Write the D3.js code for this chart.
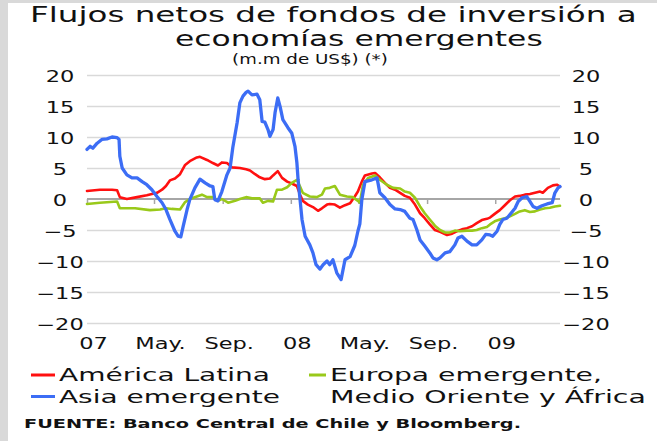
<!DOCTYPE html>
<html>
<head>
<meta charset="utf-8">
<script src="https://cdn.jsdelivr.net/npm/d3@7"></script>
<style>
  html, body { margin: 0; padding: 0; background: #ffffff; }
  svg { display: block; font-family: "DejaVu Sans", Verdana, sans-serif; }
</style>
</head>
<body>
<svg id="chart" width="657" height="441"></svg>
<script>
// ---------------- DATA ----------------
// time in weeks since 1 Jan 2007, values in billions of US$
const startDate = new Date(2007, 0, 1);
const endWeek = 121;

const latam = [
  [0,1.3],[3.3,1.5],[6.4,1.5],[7.7,1.4],[8.4,0.3],[10.2,0],[12.8,0.3],[15.3,0.6],[17.9,1],[19.2,1.5],
  [20.2,2.1],[21.2,3.0],[22.5,3.3],[23.8,4.0],[25.1,5.5],[26.3,6.1],[28.1,6.7],[28.9,6.8],[30.7,6.3],
  [32.2,5.8],[33.5,5.4],[34.5,5.9],[35.8,5.8],[37.1,5.1],[39.1,5.0],[40.7,4.8],[41.7,4.6],[43.0,4.0],
  [44.2,3.5],[45.5,3.2],[46.8,3.3],[47.6,3.8],[48.8,4.5],[49.9,3.4],[51.2,2.8],[52.4,2.5],[53.7,2.1],
  [54.5,0.7],[55.2,-0.3],[56.5,-0.9],[57.8,-1.3],[59.1,-1.9],[60.1,-1.5],[61.4,-0.9],[62.1,-0.8],
  [63.4,-0.9],[64.7,-1.4],[66.0,-1.0],[67.3,-0.7],[68.5,0.4],[69.3,1.2],[70.3,2.8],[71.1,3.8],[72.9,4.1],
  [73.7,4.2],[74.9,3.5],[76.2,2.6],[77.5,1.8],[78.8,1.5],[80.1,1.0],[81.3,0.5],[82.6,0.2],[83.9,-0.9],
  [85.2,-2.3],[86.4,-3.1],[87.7,-4.1],[89.0,-5.0],[90.3,-5.3],[92.1,-5.8],[93.4,-5.6],[94.6,-5.2],
  [95.9,-4.9],[97.2,-4.7],[98.5,-4.4],[99.7,-3.9],[101.0,-3.4],[102.3,-3.2],[103.1,-3.0],[104.3,-2.4],
  [105.6,-1.8],[106.9,-1.0],[108.2,-0.2],[109.5,0.4],[110.7,0.5],[112.0,0.7],[113.3,0.8],[114.6,1.0],
  [115.9,1.2],[116.6,1.0],[117.9,1.8],[119.2,2.2],[120.2,2.3],[121.0,2.0]
];

const europa = [
  [0,-0.8],[3.3,-0.6],[7.7,-0.4],[8.4,-1.5],[12.3,-1.5],[16.1,-1.8],[18.7,-1.7],[20.2,-1.5],[21.7,-1.6],
  [23.8,-1.7],[25.1,-0.5],[26.3,0],[28.1,0.4],[29.4,0.7],[30.7,0.3],[32.2,0.3],[33.5,-0.3],[34.5,0],
  [36.1,-0.6],[37.9,-0.3],[39.1,0],[40.7,0.3],[42.2,0.1],[44.2,0.1],[45.0,-0.6],[46.3,-0.3],[47.6,-0.4],
  [48.6,1.5],[49.9,1.5],[51.2,1.9],[52.4,2.6],[53.7,3.1],[54.5,2.0],[55.2,1.0],[57.0,0.4],[58.8,0.3],
  [60.1,0.7],[60.9,1.7],[62.1,1.8],[63.4,2.1],[64.7,0.7],[66.5,0.4],[68.0,0.3],[69.3,-0.3],[69.8,-0.6],
  [70.6,2.3],[71.9,3.4],[73.7,3.8],[74.9,3.1],[76.7,2.3],[78.3,1.8],[80.1,1.7],[81.3,1.2],[82.6,1.0],
  [83.9,0.2],[85.2,-1.2],[86.4,-2.3],[87.7,-3.3],[89.0,-4.3],[90.3,-5.0],[91.6,-5.4],[92.8,-5.4],
  [94.1,-5.1],[95.4,-5.2],[97.2,-5.1],[98.5,-5.1],[99.7,-5.0],[101.0,-4.7],[102.3,-4.5],[103.1,-4.1],
  [104.3,-3.6],[105.6,-3.3],[106.9,-3.1],[108.2,-2.8],[109.5,-2.4],[110.7,-2.0],[112.0,-1.8],
  [113.3,-2.1],[114.6,-2.0],[115.9,-1.7],[117.2,-1.5],[118.4,-1.4],[119.7,-1.2],[121.0,-1.1]
];

const asia = [
  [0,8],[0.8,8.5],[1.5,8.2],[2.6,9],[3.8,9.6],[5.1,9.7],[6.4,10],[7.7,9.9],[8.2,9.6],[8.4,6.9],[9.0,5],
  [10.2,3.9],[11.5,3.4],[12.8,3.4],[14.1,2.8],[15.3,2.3],[16.6,1.5],[17.9,0.4],[19.2,-0.6],[20.2,-1.7],
  [21.2,-3.3],[22.5,-5.2],[23.3,-6],[24.0,-6.1],[24.6,-4.4],[25.6,-1.7],[26.3,-0.1],[27.6,1.8],[28.9,3.2],
  [30.2,2.6],[31.5,2.1],[32.2,2.0],[32.7,-0.1],[33.5,-0.3],[34.5,1.2],[35.8,3.9],[36.6,5],[37.3,8.3],
  [38.4,12.3],[39.1,15.5],[39.9,16.6],[40.7,17.2],[41.2,17.4],[42.2,16.8],[43.5,16.9],[44.2,16],
  [44.8,12.5],[45.5,12.4],[46.3,11.2],[46.8,10.1],[47.6,11.2],[48.1,13.9],[48.8,16.3],[49.4,14.9],
  [50.1,12.8],[51.4,11.5],[52.4,10.6],[53.2,8.5],[53.7,5.8],[54.0,3.1],[54.5,-0.1],[55.0,-3.3],[55.8,-6],
  [57.0,-7.4],[57.8,-8.7],[58.6,-10.6],[59.6,-11.3],[60.4,-10.6],[61.4,-10],[62.1,-10.6],[62.9,-9.8],
  [63.9,-11.9],[65.0,-13],[66.0,-9.8],[67.3,-9.3],[68.5,-7.5],[69.3,-5.2],[69.8,-4.0],[70.3,-0.1],
  [71.1,2.8],[72.9,3.1],[74.2,3.4],[74.9,1.0],[76.2,0.2],[77.5,-0.9],[78.8,-1.6],[80.1,-1.7],[81.3,-2.0],
  [82.6,-3.1],[83.4,-3.3],[84.4,-5.0],[85.2,-6.6],[86.4,-7.6],[87.7,-8.7],[88.5,-9.5],[89.5,-9.8],
  [90.3,-9.5],[91.6,-8.7],[92.8,-8.5],[94.1,-7.4],[94.9,-6.3],[95.9,-6.0],[97.2,-6.8],[98.5,-7.4],
  [99.7,-7.4],[101.0,-6.6],[102.0,-5.7],[103.1,-5.8],[103.8,-6.0],[104.9,-5.2],[105.6,-4.1],[106.4,-3.3],
  [107.4,-3.1],[108.2,-2.5],[109.5,-1.5],[110.3,-0.4],[111.3,0.2],[112.5,0.4],[113.3,-0.4],[114.1,-1.2],
  [115.1,-1.5],[116.4,-1.1],[117.7,-0.8],[119.0,-0.6],[119.7,1.0],[120.5,1.8],[121.0,2.0]
];

const yTicks = [-20, -15, -10, -5, 0, 5, 10, 15, 20];
const xTickDates = ["2007-01-01","2007-05-01","2007-09-01","2008-01-01","2008-05-01","2008-09-01","2009-01-01"];
const xTickLabels = ["07", "May.", "Sep.", "08", "May.", "Sep.", "09"];

const titleLines = ["Flujos netos de fondos de inversión a", "economías emergentes"];
const subtitle = "(m.m de US$) (*)";
const seriesNames = ["América Latina", "Asia emergente", "Europa emergente,", "Medio Oriente y África"];
const source = "FUENTE: Banco Central de Chile y Bloomberg.";

// ---------------- DRAW ----------------
const svg = d3.select("#chart");
const W = 657, H = 441;
const plot = { left: 87, right: 560, top: 75, bottom: 323 };
const SX = 1.5; // horizontal stretch of the reference lettering

const weekToDate = w => new Date(startDate.getTime() + w * 7 * 86400000);
const parse = d3.timeParse("%Y-%m-%d");

const x = d3.scaleTime()
  .domain([startDate, weekToDate(endWeek)])
  .range([plot.left, plot.right]);
const y = d3.scaleLinear().domain([-20, 20]).range([plot.bottom, plot.top]);

// background & frame strips
svg.append("rect").attr("width", W).attr("height", H).attr("fill", "#ffffff");
svg.append("rect").attr("x", 0).attr("y", 0).attr("width", 8).attr("height", H).attr("fill", "#d9d9d9");
svg.append("rect").attr("x", 0).attr("y", 0).attr("width", W).attr("height", 3).attr("fill", "#d9d9d9");

function addText(str, px, py, size, opts = {}) {
  const t = svg.append("text")
    .text(str)
    .attr("font-size", size)
    .attr("font-weight", opts.weight || "normal")
    .attr("fill", opts.fill || "#111111")
    .attr("text-anchor", opts.anchor || "start");
  let sx = opts.sx || SX;
  if (opts.width) {
    const w = t.node().getComputedTextLength();
    sx = opts.width / w;
  }
  t.attr("transform", `translate(${px},${py}) scale(${sx},1)`);
  return t;
}

// Title
addText(titleLines[0], 30, 22, 20.5, { width: 607 });
addText(titleLines[1], 175, 45.5, 20.5, { width: 368 });
addText(subtitle, 232, 64, 14, { width: 156 });

// Gridlines
const grid = svg.append("g").attr("class", "grid")
  .attr("transform", `translate(${plot.left},0)`)
  .call(d3.axisLeft(y).tickValues(yTicks.filter(v => v !== 0))
    .tickSize(-(plot.right - plot.left)).tickFormat(""));
grid.select(".domain").remove();
grid.selectAll("line").attr("stroke", "#d9d9d9").attr("stroke-width", 1.5);

// Zero line with month ticks
const zero = svg.append("g")
  .attr("transform", `translate(0,${y(0)})`)
  .call(d3.axisBottom(x).tickValues(xTickDates.map(parse)).tickSize(5).tickFormat(""));
zero.select(".domain").attr("stroke", "#a6a6a6").attr("stroke-width", 2)
  .attr("d", `M${plot.left},0H${plot.right}`);
zero.selectAll(".tick line").attr("stroke", "#a6a6a6").attr("stroke-width", 1.5);

// Y axis labels (left & right)
function yLabels(xpos, anchorOffset) {
  const g = svg.append("g")
    .attr("transform", `translate(${xpos},0)`)
    .call(d3.axisLeft(y).tickValues(yTicks).tickSize(0)
      .tickFormat(d => d < 0 ? "\u2212" + Math.abs(d) : String(d)));
  g.select(".domain").remove();
  g.selectAll(".tick text")
    .attr("x", 0).attr("dy", null).attr("y", 0)
    .attr("text-anchor", "middle")
    .attr("font-family", "DejaVu Sans, Verdana, sans-serif")
    .attr("font-size", 15)
    .attr("fill", "#111111")
    .attr("transform", `translate(${anchorOffset},6.5) scale(${SX},1)`);
}
yLabels(plot.left, -27);
yLabels(plot.right, 26);

// X axis labels
const xa = svg.append("g")
  .attr("transform", `translate(0,349)`)
  .call(d3.axisBottom(x).tickValues(xTickDates.map(parse)).tickSize(0)
    .tickFormat((d, i) => xTickLabels[i]));
xa.select(".domain").remove();
xa.selectAll(".tick text")
  .attr("y", 0).attr("dy", null)
  .attr("font-family", "DejaVu Sans, Verdana, sans-serif")
  .attr("font-size", 15)
  .attr("fill", "#111111")
  .attr("transform", `translate(6,0) scale(${SX},1)`);

// Lines
const line = d3.line()
  .x(d => x(weekToDate(d[0])))
  .y(d => y(d[1]))
  .curve(d3.curveLinear);

const series = [
  { data: latam, color: "#ff1010", width: 2.6 },
  { data: europa, color: "#99c91a", width: 2.6 },
  { data: asia, color: "#3c6df5", width: 3.3 }
];
svg.append("g").selectAll("path")
  .data(series).join("path")
  .attr("d", d => line(d.data))
  .attr("fill", "none")
  .attr("stroke", d => d.color)
  .attr("stroke-width", d => d.width)
  .attr("stroke-linejoin", "round")
  .attr("stroke-linecap", "round");

// Legend
const legend = [
  { name: seriesNames[0], color: "#ff1010", lx: 31, tx: 59, y: 381, w: 211 },
  { name: seriesNames[1], color: "#3c6df5", lx: 31, tx: 59, y: 402.5, w: 221 },
  { name: seriesNames[2], color: "#99c91a", lx: 309, tx: 330, y: 381, w: 272 },
  { name: seriesNames[3], color: null, lx: 0, tx: 330, y: 402.5, w: 316 }
];
legend.forEach(l => {
  if (l.color) {
    svg.append("line")
      .attr("x1", l.lx).attr("x2", l.tx - 4)
      .attr("y1", l.y - 6).attr("y2", l.y - 6)
      .attr("stroke", l.color).attr("stroke-width", 3);
  }
  addText(l.name, l.tx, l.y, 18, { width: l.w });
});

// Source
addText(source, 24, 428, 12.5, { weight: "bold", width: 497 });
</script>
</body>
</html>
